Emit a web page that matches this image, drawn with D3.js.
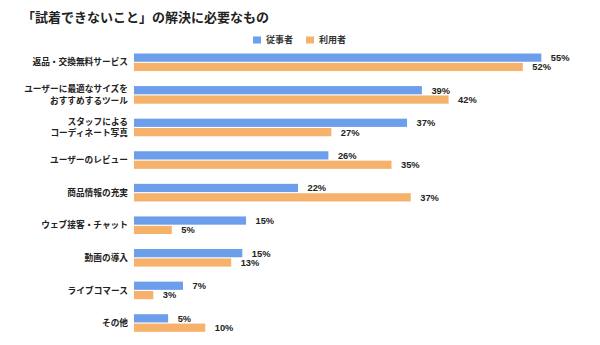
<!DOCTYPE html>
<html><head><meta charset="utf-8">
<script src="https://cdn.jsdelivr.net/npm/d3@7"></script>
<style>
html,body{margin:0;padding:0;background:#fff;}
svg{display:block;}
</style></head>
<body>
<svg id="chart" width="600" height="345"></svg>
<script>
const title = "「試着できないこと」の解決に必要なもの";
const categories = [
  ["返品・交換無料サービス"],
  ["ユーザーに最適なサイズを","おすすめするツール"],
  ["スタッフによる","コーディネート写真"],
  ["ユーザーのレビュー"],
  ["商品情報の充実"],
  ["ウェブ接客・チャット"],
  ["動画の導入"],
  ["ライブコマース"],
  ["その他"]
];
const seriesNames = ["従事者", "利用者"];
const staffValues = [54.9, 38.8, 36.8, 26.2, 22.1, 15.1, 14.6, 6.6, 4.6];
const userValues  = [52.4, 42.4, 26.6, 34.7, 37.3, 5.1, 13.1, 2.6, 9.6];
const colors = ["#6d9eeb", "#f6b26b"];

const svg = d3.select("#chart");
const jp = "'Noto Sans CJK JP','Noto Sans',sans-serif";

svg.append("text").attr("x", 22).attr("y", 22)
  .attr("font-family", jp).attr("font-size", 13).attr("font-weight", 700)
  .attr("fill", "#222").text(title);

// legend
const legendX = [253, 306];
seriesNames.forEach((n, i) => {
  svg.append("rect").attr("x", legendX[i]).attr("y", 36.5).attr("width", 8).attr("height", 7).attr("fill", colors[i]);
  svg.append("text").attr("x", legendX[i] + 13).attr("y", 43.3)
    .attr("font-family", jp).attr("font-size", 9).attr("font-weight", 700)
    .attr("fill", "#333").text(n);
});

const idx = d3.range(categories.length);
const y = d3.scaleBand().domain(idx).range([46, 339.3]).paddingInner(0.46).paddingOuter(0.23);
const ySub = d3.scaleBand().domain([0, 1]).range([0, y.bandwidth()]).paddingInner(0.12);
const x = d3.scaleLinear().domain([0, 60]).range([134, 134 + 60 * 7.42]);

const data = idx.map(i => ({i, vals: [staffValues[i], userValues[i]]}));

const g = svg.append("g");
const groups = g.selectAll("g.grp").data(data).join("g").attr("class", "grp")
  .attr("transform", d => `translate(0,${y(d.i)})`);

groups.selectAll("rect").data(d => d.vals.map((v, s) => ({v, s}))).join("rect")
  .attr("x", x(0)).attr("y", d => ySub(d.s))
  .attr("width", d => x(d.v) - x(0)).attr("height", ySub.bandwidth())
  .attr("fill", d => colors[d.s]);

groups.selectAll("text.val").data(d => d.vals.map((v, s) => ({v, s}))).join("text")
  .attr("class", "val")
  .attr("x", d => x(d.v) + 9.5).attr("y", d => ySub(d.s) + ySub.bandwidth() / 2 + 3.4)
  .attr("font-family", "'Liberation Sans',Arial,sans-serif").attr("font-size", 9.3).attr("font-weight", 700)
  .attr("fill", "#222").text(d => Math.round(d.v) + "%");

// category labels
groups.each(function(d) {
  const lines = categories[d.i];
  const cy = y.bandwidth() / 2;
  const lh = 11.5;
  const t = d3.select(this).append("text")
    .attr("text-anchor", "end").attr("font-family", jp).attr("font-size", 8.7).attr("font-weight", 700)
    .attr("fill", "#222");
  lines.forEach((ln, k) => {
    t.append("tspan").attr("x", 128)
      .attr("y", cy + (k - (lines.length - 1) / 2) * lh + 3.2).text(ln);
  });
});
</script>
</body></html>
